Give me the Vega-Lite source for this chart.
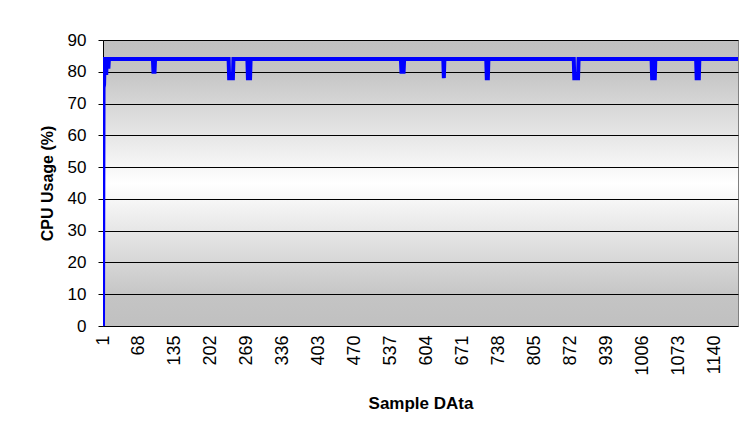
{
  "$schema": "https://vega.github.io/schema/vega-lite/v6.json",
  "width": 635,
  "height": 286,
  "autosize": {"type": "none"},
  "padding": {"left": 103, "top": 40, "right": 3, "bottom": 113},
  "background": "white",
  "view": {
    "stroke": "#808080",
    "strokeWidth": 1,
    "fill": {
      "gradient": "linear",
      "x1": 0, "y1": 0, "x2": 0, "y2": 1,
      "stops": [
        {"offset": 0, "color": "#c0c0c0"},
        {"offset": 0.1, "color": "#c4c4c4"},
        {"offset": 0.5, "color": "#ffffff"},
        {"offset": 0.9, "color": "#c4c4c4"},
        {"offset": 1, "color": "#c0c0c0"}
      ]
    }
  },
  "config": {
    "font": "Liberation Sans",
    "axis": {"labelColor": "black", "titleColor": "black", "labelFont": "Liberation Sans", "titleFont": "Liberation Sans"}
  },
  "data": {
    "values": [
      {"sample": 1, "cpu": 0},
      {"sample": 2, "cpu": 75},
      {"sample": 3, "cpu": 76},
      {"sample": 4, "cpu": 84},
      {"sample": 6, "cpu": 84},
      {"sample": 7, "cpu": 79},
      {"sample": 8, "cpu": 84},
      {"sample": 10, "cpu": 84},
      {"sample": 11, "cpu": 81},
      {"sample": 12, "cpu": 84},
      {"sample": 94, "cpu": 84},
      {"sample": 95, "cpu": 80},
      {"sample": 97, "cpu": 80},
      {"sample": 98, "cpu": 84},
      {"sample": 235, "cpu": 84},
      {"sample": 236, "cpu": 78},
      {"sample": 243, "cpu": 78},
      {"sample": 244, "cpu": 84},
      {"sample": 270, "cpu": 84},
      {"sample": 271, "cpu": 78},
      {"sample": 275, "cpu": 78},
      {"sample": 276, "cpu": 84},
      {"sample": 556, "cpu": 84},
      {"sample": 557, "cpu": 80},
      {"sample": 561, "cpu": 80},
      {"sample": 562, "cpu": 84},
      {"sample": 635, "cpu": 84},
      {"sample": 636, "cpu": 78},
      {"sample": 637, "cpu": 84},
      {"sample": 715, "cpu": 84},
      {"sample": 716, "cpu": 78},
      {"sample": 718, "cpu": 78},
      {"sample": 719, "cpu": 84},
      {"sample": 878, "cpu": 84},
      {"sample": 879, "cpu": 78},
      {"sample": 886, "cpu": 78},
      {"sample": 887, "cpu": 84},
      {"sample": 1023, "cpu": 84},
      {"sample": 1024, "cpu": 78},
      {"sample": 1029, "cpu": 78},
      {"sample": 1030, "cpu": 84},
      {"sample": 1106, "cpu": 84},
      {"sample": 1107, "cpu": 78},
      {"sample": 1111, "cpu": 78},
      {"sample": 1112, "cpu": 84},
      {"sample": 1184, "cpu": 84}
    ]
  },
  "mark": {"type": "line", "color": "#0000ff", "strokeWidth": 4, "clip": true},
  "encoding": {
    "x": {
      "field": "sample",
      "type": "quantitative",
      "scale": {"domain": [1, 1184], "nice": false, "zero": false},
      "axis": {
        "title": "Sample DAta",
        "titleFontSize": 17,
        "titleFontWeight": "bold",
        "titlePadding": 20,
        "format": "d",
        "values": [1, 68, 135, 202, 269, 336, 403, 470, 537, 604, 671, 738, 805, 872, 939, 1006, 1073, 1140],
        "labelAngle": -90,
        "labelFontSize": 18,
        "labelPadding": 9,
        "labelOverlap": false,
        "labelFlush": false,
        "ticks": false,
        "domain": false,
        "grid": false
      }
    },
    "y": {
      "field": "cpu",
      "type": "quantitative",
      "scale": {"domain": [0, 90], "nice": false},
      "axis": {
        "title": "CPU Usage (%)",
        "titleFontSize": 16,
        "titleFontWeight": "bold",
        "titlePadding": 12,
        "values": [0, 10, 20, 30, 40, 50, 60, 70, 80, 90],
        "labelFontSize": 17,
        "labelPadding": 12,
        "tickSize": 5,
        "tickColor": "black",
        "domainColor": "black",
        "grid": true,
        "gridColor": "black",
        "gridWidth": 1.2,
        "gridOpacity": 1
      }
    }
  }
}
